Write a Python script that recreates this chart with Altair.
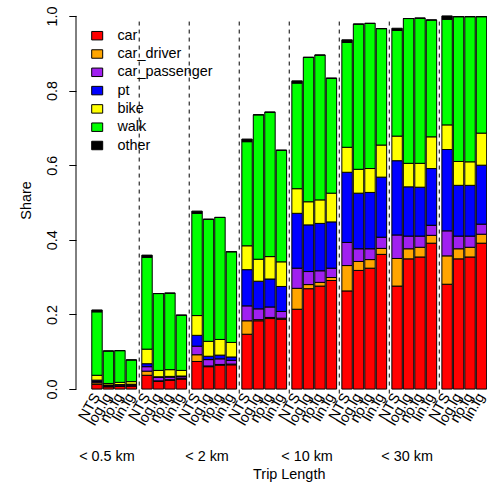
import altair as alt
import pandas as pd

modes = ["car", "car_driver", "car_passenger", "pt", "bike", "walk", "other"]
colors = ["#FF0000", "#FFA500", "#A020F0", "#0000FF", "#FFFF00", "#00FF00", "#000000"]
models = ["NTS", "log.lg", "no.lg", "lin.lg"]
groups = ["< 0.5 km", "< 1 km", "< 2 km", "< 5 km", "< 10 km", "< 20 km", "< 30 km", "30+ km"]
shown_groups = ["< 0.5 km", "< 2 km", "< 10 km", "< 30 km"]

# shares, ordered group by group, models NTS, log.lg, no.lg, lin.lg
car = [.013, .006, .007, .008,
       .037, .021, .024, .027,
       .074, .060, .064, .065,
       .147, .183, .189, .187,
       .214, .269, .276, .291,
       .263, .318, .324, .361,
       .276, .349, .354, .391,
       .281, .349, .354, .391]
car_driver = [.004, .001, .001, .001,
              .011, .001, .001, .001,
              .018, .002, .002, .002,
              .036, .003, .003, .003,
              .056, .011, .010, .008,
              .068, .024, .023, .016,
              .074, .027, .026, .021,
              .076, .027, .026, .024]
car_passenger = [.003, .003, .003, .003,
                 .012, .009, .007, .005,
                 .023, .017, .015, .010,
                 .040, .029, .028, .018,
                 .054, .035, .031, .025,
                 .062, .034, .029, .030,
                 .063, .034, .030, .027,
                 .067, .034, .030, .027]
pt = [.004, .001, .001, .001,
      .008, .002, .002, .002,
      .029, .009, .010, .009,
      .097, .074, .075, .067,
      .147, .125, .127, .124,
      .188, .149, .151, .161,
      .199, .132, .131, .152,
      .218, .136, .136, .158]
bike = [.013, .004, .006, .007,
        .039, .017, .018, .015,
        .053, .040, .042, .039,
        .064, .059, .060, .066,
        .066, .062, .063, .077,
        .067, .064, .064, .086,
        .066, .063, .064, .085,
        .066, .064, .063, .086]
walk = [.170, .087, .085, .058,
        .246, .206, .205, .148,
        .274, .327, .327, .243,
        .279, .387, .387, .299,
        .283, .387, .388, .308,
        .281, .389, .389, .312,
        .283, .388, .389, .313,
        .283, .388, .389, .312]
other = [.005, 0, 0, 0,
         .006, 0, 0, 0,
         .006, 0, 0, 0,
         .007, 0, 0, 0,
         .006, 0, 0, 0,
         .007, 0, 0, 0,
         .006, 0, 0, 0,
         .009, 0, 0, 0]

series = [car, car_driver, car_passenger, pt, bike, walk, other]

rows = []
for m, (mode, vals) in enumerate(zip(modes, series)):
    for i, v in enumerate(vals):
        g, b = divmod(i, len(models))
        rows.append({"mode": mode, "m": m, "g": g, "b": b, "bar": i, "share": v})
df = pd.DataFrame(rows)

bar_df = pd.DataFrame([{"g": i // 4, "b": i % 4, "model": models[i % 4]} for i in range(len(groups) * 4)])
sep_df = pd.DataFrame({"k": list(range(len(groups) - 1))})
grp_df = pd.DataFrame({"label": shown_groups, "g": [groups.index(s) for s in shown_groups]})

FONT = "Liberation Sans"
FS = 14.4

xscale = alt.Scale(domain=[-1.016, 38.43], nice=False, zero=False)
yscale = alt.Scale(domain=[-0.04, 1.04], nice=False, zero=False)

bars = alt.Chart(df).transform_calculate(
    x0="0.5 + datum.g * 4.8 + datum.b * 1.1",
    x1="0.5 + datum.g * 4.8 + datum.b * 1.1 + 1",
).transform_stack(
    stack="share", groupby=["bar"], sort=[alt.SortField("m", order="ascending")], as_=["y0", "y1"]
).mark_rect(stroke="black", strokeWidth=1).encode(
    x=alt.X("x0:Q", scale=xscale, axis=None),
    x2="x1:Q",
    y=alt.Y("y0:Q", scale=yscale, title="Share",
            axis=alt.Axis(values=[0, 0.2, 0.4, 0.6, 0.8, 1.0], format=".1f", domain=False,
                          grid=False, tickSize=7.2, tickColor="black", tickWidth=1,
                          labelAngle=270, labelAlign="center", labelBaseline="alphabetic",
                          labelPadding=12, labelFont=FONT, labelFontSize=FS, labelColor="black",
                          titleFont=FONT, titleFontSize=FS, titleFontWeight="normal", titleColor="black",
                          titleAngle=270, titleAlign="center", titleBaseline="alphabetic",
                          titleX=-45.5, titleY=199)),
    y2="y1:Q",
    color=alt.Color("mode:N", scale=alt.Scale(domain=modes, range=colors),
                    legend=alt.Legend(title=None, orient="none", legendX=14, legendY=27.5,
                                      symbolType="M-1,-0.77H1V0.77H-1Z", symbolSize=121,
                                      symbolStrokeColor="black", symbolStrokeWidth=1,
                                      labelFont=FONT, labelFontSize=FS, labelColor="black",
                                      labelOffset=13, rowPadding=3.3, padding=0)),
)

axis_line = alt.Chart(pd.DataFrame({"a": [0]})).mark_rule(color="black", strokeWidth=1).encode(
    x=alt.value(0), y=alt.Y("a:Q", scale=yscale), y2=alt.datum(1.0)
)

seps = alt.Chart(sep_df).transform_calculate(
    xs="5.05 + datum.k * 4.8"
).mark_rule(color="black", strokeWidth=1, strokeDash=[4, 4]).encode(
    x=alt.X("xs:Q", scale=xscale), y=alt.datum(-0.012), y2=alt.datum(0.99)
)

bar_labels = alt.Chart(bar_df).transform_calculate(
    xc="0.5 + datum.g * 4.8 + datum.b * 1.1 + 0.5"
).mark_text(angle=300, align="right", baseline="middle", font=FONT, fontSize=FS, color="black").encode(
    x=alt.X("xc:Q", scale=xscale), y=alt.datum(-0.015), text="model:N"
)

group_labels = alt.Chart(grp_df).transform_calculate(
    xg="1.96 + datum.g * 4.8"
).mark_text(align="center", baseline="middle", font=FONT, fontSize=FS, color="black").encode(
    x=alt.X("xg:Q", scale=xscale), y=alt.datum(-0.182), text="label:N"
)

xtitle = alt.Chart(pd.DataFrame({"t": ["Trip Length"]})).mark_text(
    align="center", baseline="middle", font=FONT, fontSize=FS, color="black"
).encode(x=alt.datum(19.45), y=alt.datum(-0.231), text="t:N")

chart = alt.layer(bars, axis_line, seps, bar_labels, group_labels, xtitle).properties(
    width=411, height=403,
    autosize=alt.AutoSizeParams(type="none"),
    padding={"left": 76, "top": 1, "right": 0, "bottom": 79},
    background="white",
).configure_view(stroke=None)

chart.save("out.html", embed_options={"renderer": "svg", "actions": False})
